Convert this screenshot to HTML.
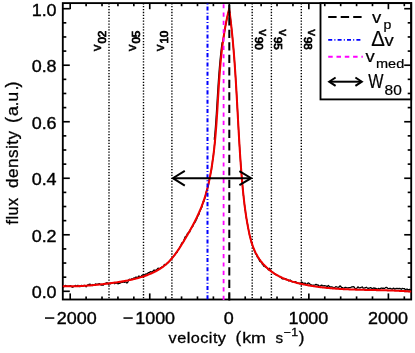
<!DOCTYPE html>
<html>
<head>
<meta charset="utf-8">
<title>Line profile</title>
<style>html,body{margin:0;padding:0;background:#fff;}svg{display:block;will-change:transform;}</style>
</head>
<body>
<svg width="415" height="353" viewBox="0 0 415 353">
<rect x="62.80" y="3.10" width="348.40" height="296.40" fill="none" stroke="#000" stroke-width="1.85"/>
<g stroke="#000" stroke-width="1.65">
<line x1="70.20" y1="299.50" x2="70.20" y2="293.40"/>
<line x1="70.20" y1="3.10" x2="70.20" y2="9.20"/>
<line x1="86.11" y1="299.50" x2="86.11" y2="296.40"/>
<line x1="86.11" y1="3.10" x2="86.11" y2="6.20"/>
<line x1="102.02" y1="299.50" x2="102.02" y2="296.40"/>
<line x1="102.02" y1="3.10" x2="102.02" y2="6.20"/>
<line x1="117.93" y1="299.50" x2="117.93" y2="296.40"/>
<line x1="117.93" y1="3.10" x2="117.93" y2="6.20"/>
<line x1="133.84" y1="299.50" x2="133.84" y2="296.40"/>
<line x1="133.84" y1="3.10" x2="133.84" y2="6.20"/>
<line x1="149.75" y1="299.50" x2="149.75" y2="293.40"/>
<line x1="149.75" y1="3.10" x2="149.75" y2="9.20"/>
<line x1="165.66" y1="299.50" x2="165.66" y2="296.40"/>
<line x1="165.66" y1="3.10" x2="165.66" y2="6.20"/>
<line x1="181.57" y1="299.50" x2="181.57" y2="296.40"/>
<line x1="181.57" y1="3.10" x2="181.57" y2="6.20"/>
<line x1="197.48" y1="299.50" x2="197.48" y2="296.40"/>
<line x1="197.48" y1="3.10" x2="197.48" y2="6.20"/>
<line x1="213.39" y1="299.50" x2="213.39" y2="296.40"/>
<line x1="213.39" y1="3.10" x2="213.39" y2="6.20"/>
<line x1="229.30" y1="299.50" x2="229.30" y2="293.40"/>
<line x1="229.30" y1="3.10" x2="229.30" y2="9.20"/>
<line x1="245.21" y1="299.50" x2="245.21" y2="296.40"/>
<line x1="245.21" y1="3.10" x2="245.21" y2="6.20"/>
<line x1="261.12" y1="299.50" x2="261.12" y2="296.40"/>
<line x1="261.12" y1="3.10" x2="261.12" y2="6.20"/>
<line x1="277.03" y1="299.50" x2="277.03" y2="296.40"/>
<line x1="277.03" y1="3.10" x2="277.03" y2="6.20"/>
<line x1="292.94" y1="299.50" x2="292.94" y2="296.40"/>
<line x1="292.94" y1="3.10" x2="292.94" y2="6.20"/>
<line x1="308.85" y1="299.50" x2="308.85" y2="293.40"/>
<line x1="308.85" y1="3.10" x2="308.85" y2="9.20"/>
<line x1="324.76" y1="299.50" x2="324.76" y2="296.40"/>
<line x1="324.76" y1="3.10" x2="324.76" y2="6.20"/>
<line x1="340.67" y1="299.50" x2="340.67" y2="296.40"/>
<line x1="340.67" y1="3.10" x2="340.67" y2="6.20"/>
<line x1="356.58" y1="299.50" x2="356.58" y2="296.40"/>
<line x1="356.58" y1="3.10" x2="356.58" y2="6.20"/>
<line x1="372.49" y1="299.50" x2="372.49" y2="296.40"/>
<line x1="372.49" y1="3.10" x2="372.49" y2="6.20"/>
<line x1="388.40" y1="299.50" x2="388.40" y2="293.40"/>
<line x1="388.40" y1="3.10" x2="388.40" y2="9.20"/>
<line x1="404.31" y1="299.50" x2="404.31" y2="296.40"/>
<line x1="404.31" y1="3.10" x2="404.31" y2="6.20"/>
<line x1="62.80" y1="291.30" x2="69.80" y2="291.30"/>
<line x1="411.20" y1="291.30" x2="404.20" y2="291.30"/>
<line x1="62.80" y1="277.17" x2="66.30" y2="277.17"/>
<line x1="411.20" y1="277.17" x2="407.70" y2="277.17"/>
<line x1="62.80" y1="263.04" x2="66.30" y2="263.04"/>
<line x1="411.20" y1="263.04" x2="407.70" y2="263.04"/>
<line x1="62.80" y1="248.91" x2="66.30" y2="248.91"/>
<line x1="411.20" y1="248.91" x2="407.70" y2="248.91"/>
<line x1="62.80" y1="234.78" x2="69.80" y2="234.78"/>
<line x1="411.20" y1="234.78" x2="404.20" y2="234.78"/>
<line x1="62.80" y1="220.65" x2="66.30" y2="220.65"/>
<line x1="411.20" y1="220.65" x2="407.70" y2="220.65"/>
<line x1="62.80" y1="206.52" x2="66.30" y2="206.52"/>
<line x1="411.20" y1="206.52" x2="407.70" y2="206.52"/>
<line x1="62.80" y1="192.39" x2="66.30" y2="192.39"/>
<line x1="411.20" y1="192.39" x2="407.70" y2="192.39"/>
<line x1="62.80" y1="178.26" x2="69.80" y2="178.26"/>
<line x1="411.20" y1="178.26" x2="404.20" y2="178.26"/>
<line x1="62.80" y1="164.13" x2="66.30" y2="164.13"/>
<line x1="411.20" y1="164.13" x2="407.70" y2="164.13"/>
<line x1="62.80" y1="150.00" x2="66.30" y2="150.00"/>
<line x1="411.20" y1="150.00" x2="407.70" y2="150.00"/>
<line x1="62.80" y1="135.87" x2="66.30" y2="135.87"/>
<line x1="411.20" y1="135.87" x2="407.70" y2="135.87"/>
<line x1="62.80" y1="121.74" x2="69.80" y2="121.74"/>
<line x1="411.20" y1="121.74" x2="404.20" y2="121.74"/>
<line x1="62.80" y1="107.61" x2="66.30" y2="107.61"/>
<line x1="411.20" y1="107.61" x2="407.70" y2="107.61"/>
<line x1="62.80" y1="93.48" x2="66.30" y2="93.48"/>
<line x1="411.20" y1="93.48" x2="407.70" y2="93.48"/>
<line x1="62.80" y1="79.35" x2="66.30" y2="79.35"/>
<line x1="411.20" y1="79.35" x2="407.70" y2="79.35"/>
<line x1="62.80" y1="65.22" x2="69.80" y2="65.22"/>
<line x1="411.20" y1="65.22" x2="404.20" y2="65.22"/>
<line x1="62.80" y1="51.09" x2="66.30" y2="51.09"/>
<line x1="411.20" y1="51.09" x2="407.70" y2="51.09"/>
<line x1="62.80" y1="36.96" x2="66.30" y2="36.96"/>
<line x1="411.20" y1="36.96" x2="407.70" y2="36.96"/>
<line x1="62.80" y1="22.83" x2="66.30" y2="22.83"/>
<line x1="411.20" y1="22.83" x2="407.70" y2="22.83"/>
<line x1="62.80" y1="8.70" x2="69.80" y2="8.70"/>
<line x1="411.20" y1="8.70" x2="404.20" y2="8.70"/>
</g>
<line x1="109.00" y1="3.10" x2="109.00" y2="299.50" stroke="#000" stroke-width="1.4" stroke-dasharray="1.3 1.61"/>
<line x1="143.50" y1="3.10" x2="143.50" y2="299.50" stroke="#000" stroke-width="1.4" stroke-dasharray="1.3 1.61"/>
<line x1="171.90" y1="3.10" x2="171.90" y2="299.50" stroke="#000" stroke-width="1.4" stroke-dasharray="1.3 1.61"/>
<line x1="252.20" y1="3.10" x2="252.20" y2="299.50" stroke="#000" stroke-width="1.4" stroke-dasharray="1.3 1.61"/>
<line x1="271.40" y1="3.10" x2="271.40" y2="299.50" stroke="#000" stroke-width="1.4" stroke-dasharray="1.3 1.61"/>
<line x1="301.30" y1="3.10" x2="301.30" y2="299.50" stroke="#000" stroke-width="1.4" stroke-dasharray="1.3 1.61"/>
<polyline points="62.80,286.87 63.55,287.06 64.31,286.44 65.06,285.60 65.81,285.47 66.57,286.05 67.32,286.13 68.07,286.03 68.83,286.05 69.58,286.11 70.33,285.63 71.09,286.14 71.84,286.95 72.59,287.25 73.35,286.93 74.10,286.12 74.85,285.88 75.61,285.43 76.36,285.99 77.11,286.13 77.86,285.29 78.62,285.60 79.37,286.57 80.12,286.70 80.87,285.72 81.63,285.33 82.38,285.91 83.13,286.07 83.88,285.50 84.64,285.43 85.39,285.95 86.14,286.73 86.89,285.93 87.64,284.90 88.39,285.01 89.14,284.28 89.90,284.17 90.65,284.63 91.40,285.34 92.15,285.61 92.90,284.51 93.65,284.73 94.40,285.14 95.15,284.17 95.90,284.00 96.65,284.36 97.40,284.18 98.15,284.34 98.89,283.74 99.64,283.55 100.39,284.69 101.14,285.03 101.89,284.98 102.64,284.99 103.39,285.05 104.13,284.12 104.88,283.79 105.63,283.42 106.38,282.78 107.13,282.67 107.87,283.20 108.62,284.32 109.37,283.76 110.12,283.83 110.86,283.56 111.61,282.86 112.36,283.08 113.10,282.55 113.85,282.60 114.60,283.70 115.34,283.18 116.09,282.85 116.83,283.22 117.58,283.56 118.32,283.76 119.07,283.27 119.81,283.24 120.56,282.97 121.30,282.09 122.04,282.39 122.79,282.28 123.53,281.72 124.27,282.36 125.01,281.94 125.75,281.92 126.49,282.93 127.23,282.94 127.97,281.80 128.71,280.00 129.45,279.25 130.18,279.59 130.92,279.37 131.66,278.88 132.39,278.84 133.12,278.57 133.86,278.00 134.59,278.12 135.32,277.56 136.05,276.95 136.78,277.86 137.51,278.09 138.23,276.59 138.96,276.02 139.68,276.51 140.40,276.79 141.12,276.41 141.84,275.52 142.56,274.97 143.28,275.17 143.99,275.32 144.70,274.64 145.42,274.20 146.12,273.97 146.83,273.99 147.54,273.44 148.24,272.76 148.94,272.74 149.63,272.36 150.33,271.64 151.02,272.00 151.71,272.02 152.39,271.49 153.08,271.19 153.76,270.06 154.43,270.09 155.10,270.52 155.77,270.06 156.43,269.70 157.09,269.14 157.75,268.41 158.40,268.25 159.05,268.92 159.69,269.00 160.32,267.84 160.95,267.52 161.57,267.30 162.19,266.65 162.80,266.82 163.41,266.42 164.00,265.06 164.60,264.47 165.18,264.67 165.75,264.58 166.32,264.53 166.88,263.71 167.44,263.01 167.98,262.92 168.52,262.06 169.05,261.68 169.58,261.38 170.09,260.20 170.61,259.86 171.11,259.17 171.61,258.22 172.10,258.11 172.58,257.67 173.06,256.82 173.54,256.06 174.00,255.69 174.47,255.48 174.92,254.63 175.38,253.68 175.82,253.28 176.27,252.15 176.70,252.64 177.14,252.48 177.57,250.30 177.99,250.23 178.41,249.76 178.83,248.74 179.24,248.83 179.65,247.79 180.06,246.65 180.47,246.01 180.87,245.42 181.27,244.28 181.67,243.11 182.06,242.89 182.46,242.98 182.85,242.52 183.24,242.05 183.63,241.37 184.02,239.85 184.41,238.87 184.79,237.65 185.18,236.69 185.56,236.43 185.94,236.26 186.33,236.27 186.71,235.36 187.09,234.32 187.47,233.40 187.84,233.04 188.22,233.19 188.59,232.86 188.96,231.92 189.34,231.91 189.71,232.05 190.07,230.65 190.44,229.37 190.81,228.64 191.17,228.25 191.53,227.71 191.89,227.19 192.25,226.84 192.60,226.54 192.96,226.06 193.31,224.90 193.66,224.04 194.00,223.37 194.35,222.45 194.69,222.77 195.03,222.26 195.37,221.72 195.71,221.16 196.04,219.89 196.37,219.80 196.70,219.06 197.02,218.13 197.35,217.36 197.67,216.35 197.98,215.69 198.30,214.93 198.61,214.89 198.92,214.35 199.22,213.64 199.52,211.94 199.82,210.53 200.12,210.96 200.41,210.04 200.70,209.44 200.99,209.00 201.27,207.70 201.55,206.85 201.82,207.25 202.09,206.43 202.36,204.75 202.63,203.77 202.89,202.98 203.14,201.94 203.39,201.10 203.64,201.78 203.89,201.54 204.13,200.14 204.37,199.44 204.60,199.19 204.83,198.28 205.06,197.63 205.28,197.09 205.50,195.65 205.71,195.17 205.93,193.50 206.14,191.92 206.34,192.18 206.54,191.33 206.74,190.44 206.94,189.82 207.13,188.90 207.32,189.43 207.51,189.18 207.69,187.41 207.87,186.94 208.05,186.14 208.22,185.24 208.40,184.73 208.57,184.27 208.73,182.88 208.90,181.82 209.06,181.66 209.22,180.20 209.37,179.82 209.53,179.19 209.68,178.66 209.83,178.44 209.97,177.35 210.12,176.45 210.26,175.79 210.40,174.32 210.54,173.27 210.67,172.99 210.81,172.33 210.94,171.80 211.07,171.19 211.19,170.15 211.32,169.86 211.44,170.30 211.56,168.79 211.68,167.17 211.80,166.62 211.92,166.35 212.04,166.21 212.15,164.54 212.26,162.85 212.37,162.16 212.48,161.23 212.59,160.27 212.69,160.07 212.80,159.51 212.90,159.19 213.00,159.22 213.10,157.52 213.20,156.05 213.30,155.46 213.39,155.62 213.49,154.79 213.58,152.95 213.67,152.51 213.76,152.46 213.85,151.48 213.94,151.20 214.03,150.79 214.11,149.60 214.20,148.44 214.28,147.51 214.36,147.02 214.44,145.44 214.52,144.85 214.60,144.28 214.68,143.42 214.76,142.79 214.83,142.81 214.91,142.73 214.98,141.55 215.05,141.02 214.37,139.45 214.44,137.50 214.51,137.12 214.58,137.35 214.65,136.60 214.71,135.85 214.78,135.10 214.84,134.35 214.91,133.60 214.97,132.85 215.03,132.10 215.10,131.35 215.16,130.60 215.22,129.84 215.28,129.09 215.33,128.34 215.39,127.59 215.45,126.84 215.51,126.09 215.56,125.34 215.62,124.59 215.67,123.84 215.73,123.08 215.78,122.33 215.83,121.58 215.88,120.83 215.94,120.08 215.99,119.33 216.04,118.57 216.09,117.82 216.14,117.07 216.19,116.32 216.24,115.57 216.29,114.82 216.34,114.06 216.39,113.31 216.43,112.56 216.48,111.81 216.53,111.06 216.58,110.30 216.62,109.55 216.67,108.80 216.72,108.05 216.76,107.30 216.81,106.55 216.85,105.79 216.90,105.04 216.94,104.29 216.99,103.54 217.04,102.79 217.08,102.03 217.13,101.28 217.17,100.53 217.22,99.78 217.26,99.03 217.31,98.27 217.35,97.52 217.40,96.77 217.44,96.02 217.49,95.27 217.54,94.51 217.58,93.76 217.63,93.01 217.67,92.26 217.72,91.51 217.77,90.75 217.81,90.00 217.86,89.25 217.91,88.50 217.96,87.75 218.01,86.99 218.05,86.24 218.10,85.49 218.15,84.74 218.20,83.99 218.25,83.24 218.30,82.48 218.35,81.73 218.40,80.98 218.45,80.23 218.51,79.48 218.56,78.73 218.61,77.97 218.67,77.22 218.72,76.47 218.78,75.72 218.83,74.97 218.89,74.22 218.94,73.47 219.00,72.72 219.06,71.96 219.12,71.21 219.18,70.46 219.24,69.71 219.30,68.96 219.36,68.21 219.42,67.46 219.49,66.71 219.55,65.96 219.62,65.21 219.68,64.46 219.75,63.71 219.82,62.96 219.89,62.21 219.96,61.46 220.03,60.71 220.10,59.96 220.17,59.21 220.24,58.46 220.32,57.71 220.39,56.96 220.47,56.21 220.55,55.46 220.63,54.71 220.71,53.96 220.79,53.21 220.87,52.46 220.96,51.71 221.04,50.96 221.13,50.22 221.21,49.47 221.30,48.72 221.39,47.97 221.48,47.22 221.58,46.48 221.67,45.73 221.76,44.98 221.86,44.23 221.96,43.49 222.06,42.74 222.91,41.99 223.01,41.25 223.11,40.50 223.22,39.76 223.33,39.01 223.43,38.26 223.54,37.52 223.65,36.77 223.77,36.03 223.88,35.28 224.00,34.54 224.12,33.80 224.23,33.05 224.36,32.31 224.48,31.56 224.60,30.82 224.73,30.08 224.86,29.34 224.98,28.59 225.12,27.85 225.25,27.11 225.38,26.37 225.52,25.63 225.66,24.89 225.80,24.15 225.94,23.41 226.08,22.67 226.23,21.93 226.38,21.19 226.53,20.45 226.68,19.71 226.83,18.98 226.99,18.24 227.15,17.50 227.31,16.77 227.47,16.03 227.63,15.30 227.80,14.56 227.97,13.83 228.14,13.09 228.31,12.36 228.48,11.63 228.66,10.89 228.84,10.16 229.02,9.43 229.20,8.70 229.31,9.52 229.42,10.34 229.52,11.17 229.63,11.99 229.74,12.81 229.84,13.63 229.94,14.46 230.05,15.28 230.15,16.10 230.25,16.93 230.35,17.75 230.45,18.57 230.54,19.40 230.64,20.22 230.74,21.04 230.83,21.87 230.93,22.69 231.02,23.52 231.11,24.34 231.20,25.16 231.29,25.99 231.38,26.81 231.47,27.64 231.56,28.46 231.65,29.29 231.73,30.11 231.82,30.94 231.90,31.76 231.99,32.59 232.07,33.41 232.15,34.24 232.24,35.06 232.32,35.89 232.40,36.71 232.48,37.54 232.56,38.36 232.63,39.19 232.71,40.02 232.79,40.84 232.86,41.67 232.94,42.49 233.01,43.32 233.09,44.14 233.16,44.97 233.23,45.80 233.30,46.62 233.38,47.45 233.45,48.28 233.52,49.10 233.59,49.93 233.65,50.75 233.72,51.58 233.79,52.41 233.86,53.23 233.92,54.06 233.99,54.89 234.05,55.71 234.12,56.54 234.18,57.37 234.25,58.20 234.31,59.02 234.37,59.85 234.43,60.68 234.49,61.50 234.56,62.33 234.62,63.16 234.68,63.98 234.74,64.81 234.79,65.64 234.85,66.47 234.91,67.29 234.97,68.12 235.03,68.95 235.08,69.78 235.14,70.60 235.19,71.43 235.25,72.26 235.31,73.08 235.36,73.91 235.41,74.74 235.47,75.57 235.52,76.39 235.58,77.22 235.63,78.05 235.68,78.88 235.73,79.71 235.78,80.53 235.84,81.36 235.89,82.19 235.94,83.02 235.99,83.84 236.04,84.67 236.09,85.50 236.14,86.33 236.19,87.16 236.24,87.98 236.29,88.81 236.34,89.64 236.38,90.47 236.43,91.29 236.48,92.12 236.53,92.95 236.58,93.78 236.62,94.61 236.67,95.43 236.72,96.26 236.77,97.09 236.81,97.92 236.86,98.75 236.91,99.57 236.95,100.40 237.00,101.23 237.04,102.06 237.09,102.89 237.14,103.71 237.18,104.54 237.23,105.37 237.27,106.20 237.32,107.03 237.36,107.85 237.41,108.68 237.46,109.51 237.50,110.34 237.55,111.17 237.59,111.99 237.64,112.82 237.68,113.65 237.73,114.48 237.77,115.31 237.82,116.13 237.86,116.96 237.91,117.79 237.95,118.62 238.00,119.45 238.04,120.28 238.09,121.10 238.14,121.93 238.18,122.76 238.23,123.59 238.27,124.42 238.32,125.24 238.37,126.07 238.41,126.90 238.46,127.73 238.50,128.56 238.55,129.38 238.60,130.21 238.65,131.04 238.69,131.87 238.74,132.70 238.79,133.52 238.83,134.35 238.88,135.18 238.93,136.01 238.98,136.83 239.03,137.66 239.08,138.49 239.13,139.32 239.17,140.15 239.22,140.97 239.27,141.80 239.32,142.63 239.37,143.46 239.42,144.29 239.48,145.11 239.53,145.94 239.58,146.77 239.63,147.60 239.68,148.42 239.73,149.25 239.79,150.08 239.84,150.91 239.89,151.73 239.95,152.56 240.00,153.39 240.06,154.22 240.11,155.04 240.17,155.87 240.22,156.70 240.28,157.53 240.34,158.35 240.39,159.18 240.45,160.01 240.51,160.84 240.57,161.66 240.63,162.49 240.69,163.32 240.75,164.14 240.81,164.97 240.87,165.80 240.93,166.63 240.99,167.45 241.05,168.28 241.12,169.11 241.18,169.93 241.24,170.76 241.31,171.59 241.37,172.41 241.44,173.24 241.50,174.07 241.57,174.89 241.64,175.72 241.71,176.55 241.78,177.37 241.84,178.20 241.91,179.03 241.98,179.85 242.06,180.68 242.13,181.50 242.20,182.33 242.27,183.16 242.35,183.98 242.42,184.81 242.50,185.63 242.57,186.46 242.65,187.29 242.73,188.11 242.81,188.94 242.89,189.76 242.97,190.59 243.05,191.41 243.13,192.24 243.21,193.06 243.30,193.89 243.38,195.43 243.47,195.57 243.56,195.61 243.65,196.92 243.74,198.06 243.83,198.28 243.92,199.67 244.02,200.30 244.11,200.55 244.21,201.33 244.31,202.48 244.41,203.96 244.51,204.97 244.61,205.73 244.72,206.27 244.82,206.99 244.93,207.69 245.04,209.20 245.15,210.36 245.26,209.70 245.38,210.04 245.49,212.20 245.61,212.91 245.73,212.97 245.85,214.45 245.98,215.02 246.10,216.09 246.23,217.95 246.36,218.06 246.49,218.67 246.62,219.47 246.76,219.49 246.89,220.73 247.03,222.01 247.18,222.51 247.32,223.56 247.47,224.05 247.61,224.23 247.76,225.19 247.92,226.61 248.07,228.13 248.23,228.91 248.39,228.94 248.55,229.55 248.72,231.02 248.88,231.17 249.06,231.51 249.23,233.17 249.41,234.55 249.59,235.21 249.78,235.96 249.98,236.79 250.17,237.45 250.38,238.09 250.59,238.51 250.80,239.27 251.02,240.24 251.25,242.00 251.49,243.05 251.73,242.98 251.98,243.60 252.24,244.36 252.50,245.15 252.78,246.21 253.06,247.12 253.35,248.05 253.66,248.65 253.97,249.34 254.29,250.80 254.62,251.12 254.96,251.73 255.32,253.11 255.68,253.76 256.06,254.29 256.45,254.50 256.85,255.87 257.26,256.95 257.68,256.78 258.12,258.09 258.57,258.57 259.02,259.37 259.49,260.91 259.98,261.45 260.47,261.89 260.97,261.87 261.49,261.87 262.01,263.52 262.54,264.68 263.09,264.56 263.64,265.93 264.21,266.47 264.78,266.34 265.36,266.98 265.95,267.44 266.55,267.50 267.16,267.70 267.78,268.97 268.40,269.92 269.04,268.81 269.68,268.30 270.33,270.05 270.99,271.24 271.65,271.47 272.32,272.39 273.00,272.33 273.69,272.86 274.38,274.03 275.08,274.23 275.79,274.71 276.50,275.24 277.22,275.47 277.95,275.35 278.68,276.13 279.41,276.78 280.15,276.40 280.90,277.20 281.65,278.48 282.40,278.86 283.16,278.78 283.92,278.69 284.68,278.84 285.45,278.66 286.22,279.13 287.00,279.85 287.78,279.87 288.56,280.77 289.34,280.68 290.13,279.95 290.91,280.56 291.70,281.60 292.50,281.99 293.29,281.61 294.09,281.59 294.89,281.63 295.69,281.66 296.49,282.50 297.29,283.36 298.09,283.48 298.90,283.09 299.71,283.73 300.51,283.65 301.32,281.97 302.13,282.26 302.94,283.12 303.76,283.57 304.57,283.22 305.38,283.25 306.20,284.38 307.01,283.96 307.83,283.17 308.64,282.98 309.46,283.48 310.28,284.57 311.10,284.90 311.91,285.01 312.73,285.38 313.55,285.24 314.37,285.18 315.19,284.89 316.01,284.35 316.83,284.90 317.65,284.99 318.48,285.20 319.30,286.11 320.12,286.13 320.94,285.42 321.77,285.05 322.59,285.91 323.42,285.95 324.24,285.53 325.06,285.79 325.89,285.84 326.71,286.42 327.54,286.29 328.36,285.45 329.19,286.31 330.02,287.05 330.84,286.90 331.67,286.92 332.49,287.03 333.32,287.59 334.15,287.86 334.97,287.32 335.80,286.71 336.63,286.98 337.46,287.22 338.28,287.30 339.11,286.98 339.94,285.92 340.77,286.38 341.59,287.58 342.42,287.68 343.25,288.04 344.08,288.15 344.91,287.41 345.74,287.49 346.56,287.64 347.39,287.77 348.22,287.92 349.05,287.65 349.88,287.68 350.71,287.56 351.54,286.94 352.36,286.97 353.19,286.71 354.02,286.90 354.85,288.15 355.68,288.76 356.51,288.55 357.34,287.54 358.17,286.83 359.00,287.85 359.82,287.93 360.65,287.56 361.48,287.25 362.31,286.92 363.14,288.06 363.97,288.22 364.80,287.97 365.63,287.55 366.46,287.25 367.29,287.95 368.12,288.47 368.94,288.05 369.77,287.98 370.60,287.71 371.43,288.04 372.26,288.87 373.09,288.22 373.92,287.80 374.75,288.50 375.58,288.24 376.41,288.63 377.24,289.45 378.06,288.60 378.89,288.42 379.72,289.17 380.55,288.36 381.38,287.98 382.21,288.42 383.04,288.12 383.87,288.47 384.70,288.39 385.53,287.62 386.36,287.29 387.18,287.83 388.01,288.63 388.84,288.65 389.67,288.39 390.50,288.41 391.33,288.98 392.16,289.22 392.99,288.49 393.81,288.21 394.64,288.98 395.47,288.91 396.30,288.34 397.13,288.59 397.96,288.38 398.79,288.77 399.61,288.39 400.44,288.64 401.27,289.34 402.10,288.38 402.93,288.70 403.75,288.58 404.58,288.74 405.41,289.73 406.24,289.38 407.06,289.01 407.89,289.65 408.72,289.63 409.55,289.37 410.37,289.84 411.20,290.51" fill="none" stroke="#000" stroke-width="1.3" stroke-linejoin="round"/>
<polyline points="62.80,286.20 63.55,286.22 64.31,286.24 65.06,286.26 65.81,286.27 66.57,286.28 67.32,286.29 68.07,286.30 68.83,286.30 69.58,286.30 70.33,286.30 71.09,286.30 71.84,286.29 72.59,286.28 73.35,286.27 74.10,286.26 74.85,286.24 75.61,286.22 76.36,286.20 77.11,286.17 77.86,286.15 78.62,286.12 79.37,286.09 80.12,286.05 80.87,286.02 81.63,285.98 82.38,285.94 83.13,285.90 83.88,285.85 84.64,285.81 85.39,285.76 86.14,285.71 86.89,285.65 87.64,285.60 88.39,285.54 89.14,285.49 89.90,285.42 90.65,285.36 91.40,285.30 92.15,285.23 92.90,285.17 93.65,285.10 94.40,285.03 95.15,284.96 95.90,284.88 96.65,284.81 97.40,284.73 98.15,284.65 98.89,284.57 99.64,284.49 100.39,284.41 101.14,284.33 101.89,284.24 102.64,284.15 103.39,284.07 104.13,283.98 104.88,283.89 105.63,283.80 106.38,283.71 107.13,283.62 107.87,283.52 108.62,283.43 109.37,283.33 110.12,283.24 110.86,283.14 111.61,283.04 112.36,282.94 113.10,282.84 113.85,282.74 114.60,282.64 115.34,282.53 116.09,282.42 116.83,282.32 117.58,282.20 118.32,282.09 119.07,281.98 119.81,281.86 120.56,281.74 121.30,281.62 122.04,281.50 122.79,281.37 123.53,281.24 124.27,281.11 125.01,280.98 125.75,280.84 126.49,280.70 127.23,280.56 127.97,280.41 128.71,280.27 129.45,280.11 130.18,279.96 130.92,279.80 131.66,279.63 132.39,279.47 133.12,279.30 133.86,279.12 134.59,278.94 135.32,278.76 136.05,278.57 136.78,278.38 137.51,278.19 138.23,277.99 138.96,277.78 139.68,277.57 140.40,277.36 141.12,277.14 141.84,276.92 142.56,276.69 143.28,276.45 143.99,276.22 144.70,275.97 145.42,275.72 146.12,275.47 146.83,275.20 147.54,274.94 148.24,274.66 148.94,274.38 149.63,274.10 150.33,273.81 151.02,273.51 151.71,273.20 152.39,272.89 153.08,272.57 153.76,272.25 154.43,271.91 155.10,271.57 155.77,271.22 156.43,270.87 157.09,270.50 157.75,270.13 158.40,269.75 159.05,269.36 159.69,268.96 160.32,268.56 160.95,268.15 161.57,267.72 162.19,267.29 162.80,266.85 163.41,266.40 164.00,265.94 164.60,265.48 165.18,265.00 165.75,264.51 166.32,264.02 166.88,263.51 167.44,263.00 167.98,262.48 168.52,261.96 169.05,261.42 169.58,260.88 170.09,260.34 170.61,259.78 171.11,259.22 171.61,258.66 172.10,258.09 172.58,257.51 173.06,256.93 173.54,256.34 174.00,255.75 174.47,255.16 174.92,254.56 175.38,253.96 175.82,253.35 176.27,252.74 176.70,252.13 177.14,251.51 177.57,250.89 177.99,250.27 178.41,249.64 178.83,249.02 179.24,248.39 179.65,247.76 180.06,247.12 180.47,246.49 180.87,245.85 181.27,245.21 181.67,244.57 182.06,243.93 182.46,243.29 182.85,242.65 183.24,242.00 183.63,241.36 184.02,240.71 184.41,240.07 184.79,239.42 185.18,238.77 185.56,238.12 185.94,237.47 186.33,236.82 186.71,236.17 187.09,235.52 187.47,234.87 187.84,234.22 188.22,233.57 188.59,232.91 188.96,232.26 189.34,231.60 189.71,230.95 190.07,230.29 190.44,229.63 190.81,228.97 191.17,228.31 191.53,227.65 191.89,226.99 192.25,226.33 192.60,225.66 192.96,225.00 193.31,224.33 193.66,223.66 194.00,222.99 194.35,222.33 194.69,221.65 195.03,220.98 195.37,220.31 195.71,219.63 196.04,218.96 196.37,218.28 196.70,217.60 197.02,216.92 197.35,216.24 197.67,215.56 197.98,214.88 198.30,214.19 198.61,213.51 198.92,212.82 199.22,212.13 199.52,211.44 199.82,210.75 200.12,210.06 200.41,209.36 200.70,208.67 200.99,207.97 201.27,207.27 201.55,206.57 201.82,205.87 202.09,205.17 202.36,204.46 202.63,203.76 202.89,203.05 203.14,202.34 203.39,201.63 203.64,200.92 203.89,200.21 204.13,199.49 204.37,198.78 204.60,198.06 204.83,197.35 205.06,196.63 205.28,195.91 205.50,195.19 205.71,194.47 205.93,193.74 206.14,193.02 206.34,192.29 206.54,191.57 206.74,190.84 206.94,190.11 207.13,189.39 207.32,188.66 207.51,187.93 207.69,187.20 207.87,186.47 208.05,185.73 208.22,185.00 208.40,184.27 208.57,183.53 208.73,182.80 208.90,182.06 209.06,181.33 209.22,180.59 209.37,179.85 209.53,179.12 209.68,178.38 209.83,177.64 209.97,176.90 210.12,176.16 210.26,175.42 210.40,174.68 210.54,173.94 210.67,173.20 210.81,172.46 210.94,171.72 211.07,170.97 211.19,170.23 211.32,169.49 211.44,168.75 211.56,168.00 211.68,167.26 211.80,166.51 211.92,165.77 212.04,165.03 212.15,164.28 212.26,163.54 212.37,162.79 212.48,162.05 212.59,161.30 212.69,160.55 212.80,159.81 212.90,159.06 213.00,158.31 213.10,157.57 213.20,156.82 213.30,156.07 213.39,155.33 213.49,154.58 213.58,153.83 213.67,153.08 213.76,152.34 213.85,151.59 213.94,150.84 214.03,150.09 214.11,149.34 214.20,148.59 214.28,147.85 214.36,147.10 214.44,146.35 214.52,145.60 214.60,144.85 214.68,144.10 214.76,143.35 214.83,142.60 214.91,141.85 214.98,141.10 215.05,140.35 215.12,139.60 215.19,138.85 215.26,138.10 215.33,137.35 215.40,136.60 215.46,135.85 215.53,135.10 215.59,134.35 215.66,133.60 215.72,132.85 215.78,132.10 215.85,131.35 215.91,130.60 215.97,129.84 216.03,129.09 216.08,128.34 216.14,127.59 216.20,126.84 216.26,126.09 216.31,125.34 216.37,124.59 216.42,123.84 216.48,123.08 216.53,122.33 216.58,121.58 216.63,120.83 216.69,120.08 216.74,119.33 216.79,118.57 216.84,117.82 216.89,117.07 216.94,116.32 216.99,115.57 217.04,114.82 217.09,114.06 217.14,113.31 217.18,112.56 217.23,111.81 217.28,111.06 217.33,110.30 217.37,109.55 217.42,108.80 217.47,108.05 217.51,107.30 217.56,106.55 217.60,105.79 217.65,105.04 217.69,104.29 217.74,103.54 217.79,102.79 217.83,102.03 217.88,101.28 217.92,100.53 217.97,99.78 218.01,99.03 218.06,98.27 218.10,97.52 218.15,96.77 218.19,96.02 218.24,95.27 218.29,94.51 218.33,93.76 218.38,93.01 218.42,92.26 218.47,91.51 218.52,90.75 218.56,90.00 218.61,89.25 218.66,88.50 218.71,87.75 218.76,86.99 218.80,86.24 218.85,85.49 218.90,84.74 218.95,83.99 219.00,83.24 219.05,82.48 219.10,81.73 219.15,80.98 219.20,80.23 219.26,79.48 219.31,78.73 219.36,77.97 219.42,77.22 219.47,76.47 219.53,75.72 219.58,74.97 219.64,74.22 219.69,73.47 219.75,72.72 219.81,71.96 219.87,71.21 219.93,70.46 219.99,69.71 220.05,68.96 220.11,68.21 220.17,67.46 220.24,66.71 220.30,65.96 220.37,65.21 220.43,64.46 220.50,63.71 220.57,62.96 220.64,62.21 220.71,61.46 220.78,60.71 220.85,59.96 220.92,59.21 220.99,58.46 221.07,57.71 221.14,56.96 221.22,56.21 221.30,55.46 221.38,54.71 221.46,53.96 221.54,53.21 221.62,52.46 221.71,51.71 221.79,50.96 221.88,50.22 221.96,49.47 222.05,48.72 222.14,47.97 222.23,47.22 222.33,46.48 222.42,45.73 222.51,44.98 222.61,44.23 222.71,43.49 222.81,42.74 222.91,41.99 223.01,41.25 223.11,40.50 223.22,39.76 223.33,39.01 223.43,38.26 223.54,37.52 223.65,36.77 223.77,36.03 223.88,35.28 224.00,34.54 224.12,33.80 224.23,33.05 224.36,32.31 224.48,31.56 224.60,30.82 224.73,30.08 224.86,29.34 224.98,28.59 225.12,27.85 225.25,27.11 225.38,26.37 225.52,25.63 225.66,24.89 225.80,24.15 225.94,23.41 226.08,22.67 226.23,21.93 226.38,21.19 226.53,20.45 226.68,19.71 226.83,18.98 226.99,18.24 227.15,17.50 227.31,16.77 227.47,16.03 227.63,15.30 227.80,14.56 227.97,13.83 228.14,13.09 228.31,12.36 228.48,11.63 228.66,10.89 228.84,10.16 229.02,9.43 229.20,8.70 229.31,9.52 229.42,10.34 229.52,11.17 229.63,11.99 229.74,12.81 229.84,13.63 229.94,14.46 230.05,15.28 230.15,16.10 230.25,16.93 230.35,17.75 230.45,18.57 230.54,19.40 230.64,20.22 230.74,21.04 230.83,21.87 230.93,22.69 231.02,23.52 231.11,24.34 231.20,25.16 231.29,25.99 231.38,26.81 231.47,27.64 231.56,28.46 231.65,29.29 231.73,30.11 231.82,30.94 231.90,31.76 231.99,32.59 232.07,33.41 232.15,34.24 232.24,35.06 232.32,35.89 232.40,36.71 232.48,37.54 232.56,38.36 232.63,39.19 232.71,40.02 232.79,40.84 232.86,41.67 232.94,42.49 233.01,43.32 233.09,44.14 233.16,44.97 233.23,45.80 233.30,46.62 233.38,47.45 233.45,48.28 233.52,49.10 233.59,49.93 233.65,50.75 233.72,51.58 233.79,52.41 233.86,53.23 233.92,54.06 233.99,54.89 234.05,55.71 234.12,56.54 234.18,57.37 234.25,58.20 234.31,59.02 234.37,59.85 234.43,60.68 234.49,61.50 234.56,62.33 234.62,63.16 234.68,63.98 234.74,64.81 234.79,65.64 234.85,66.47 234.91,67.29 234.97,68.12 235.03,68.95 235.08,69.78 235.14,70.60 235.19,71.43 235.25,72.26 235.31,73.08 235.36,73.91 235.41,74.74 235.47,75.57 235.52,76.39 235.58,77.22 235.63,78.05 235.68,78.88 235.73,79.71 235.78,80.53 235.84,81.36 235.89,82.19 235.94,83.02 235.99,83.84 236.04,84.67 236.09,85.50 236.14,86.33 236.19,87.16 236.24,87.98 236.29,88.81 236.34,89.64 236.38,90.47 236.43,91.29 236.48,92.12 236.53,92.95 236.58,93.78 236.62,94.61 236.67,95.43 236.72,96.26 236.77,97.09 236.81,97.92 236.86,98.75 236.91,99.57 236.95,100.40 237.00,101.23 237.04,102.06 237.09,102.89 237.14,103.71 237.18,104.54 237.23,105.37 237.27,106.20 237.32,107.03 237.36,107.85 237.41,108.68 237.46,109.51 237.50,110.34 237.55,111.17 237.59,111.99 237.64,112.82 237.68,113.65 237.73,114.48 237.77,115.31 237.82,116.13 237.86,116.96 237.91,117.79 237.95,118.62 238.00,119.45 238.04,120.28 238.09,121.10 238.14,121.93 238.18,122.76 238.23,123.59 238.27,124.42 238.32,125.24 238.37,126.07 238.41,126.90 238.46,127.73 238.50,128.56 238.55,129.38 238.60,130.21 238.65,131.04 238.69,131.87 238.74,132.70 238.79,133.52 238.83,134.35 238.88,135.18 238.93,136.01 238.98,136.83 239.03,137.66 239.08,138.49 239.13,139.32 239.17,140.15 239.22,140.97 239.27,141.80 239.32,142.63 239.37,143.46 239.42,144.29 239.48,145.11 239.53,145.94 239.58,146.77 239.63,147.60 239.68,148.42 239.73,149.25 239.79,150.08 239.84,150.91 239.89,151.73 239.95,152.56 240.00,153.39 240.06,154.22 240.11,155.04 240.17,155.87 240.22,156.70 240.28,157.53 240.34,158.35 240.39,159.18 240.45,160.01 240.51,160.84 240.57,161.66 240.63,162.49 240.69,163.32 240.75,164.14 240.81,164.97 240.87,165.80 240.93,166.63 240.99,167.45 241.05,168.28 241.12,169.11 241.18,169.93 241.24,170.76 241.31,171.59 241.37,172.41 241.44,173.24 241.50,174.07 241.57,174.89 241.64,175.72 241.71,176.55 241.78,177.37 241.84,178.20 241.91,179.03 241.98,179.85 242.06,180.68 242.13,181.50 242.20,182.33 242.27,183.16 242.35,183.98 242.42,184.81 242.50,185.63 242.57,186.46 242.65,187.29 242.73,188.11 242.81,188.94 242.89,189.76 242.97,190.59 243.05,191.41 243.13,192.24 243.21,193.06 243.30,193.89 243.38,194.71 243.47,195.54 243.56,196.36 243.65,197.19 243.74,198.01 243.83,198.84 243.92,199.66 244.02,200.48 244.11,201.31 244.21,202.13 244.31,202.96 244.41,203.78 244.51,204.60 244.61,205.42 244.72,206.25 244.82,207.07 244.93,207.89 245.04,208.71 245.15,209.54 245.26,210.36 245.38,211.18 245.49,212.00 245.61,212.82 245.73,213.64 245.85,214.46 245.98,215.28 246.10,216.10 246.23,216.92 246.36,217.74 246.49,218.56 246.62,219.38 246.76,220.20 246.89,221.01 247.03,221.83 247.18,222.65 247.32,223.47 247.47,224.28 247.61,225.10 247.76,225.91 247.92,226.73 248.07,227.54 248.23,228.36 248.39,229.17 248.55,229.98 248.72,230.80 248.88,231.61 249.06,232.42 249.23,233.23 249.41,234.04 249.59,234.85 249.78,235.66 249.98,236.46 250.17,237.27 250.38,238.07 250.59,238.88 250.80,239.68 251.02,240.48 251.25,241.27 251.49,242.07 251.73,242.86 251.98,243.65 252.24,244.44 252.50,245.23 252.78,246.01 253.06,246.79 253.35,247.56 253.66,248.34 253.97,249.10 254.29,249.87 254.62,250.63 254.96,251.38 255.32,252.13 255.68,252.88 256.06,253.62 256.45,254.35 256.85,255.08 257.26,255.80 257.68,256.51 258.12,257.21 258.57,257.91 259.02,258.60 259.49,259.29 259.98,259.96 260.47,260.63 260.97,261.29 261.49,261.94 262.01,262.58 262.54,263.22 263.09,263.84 263.64,264.46 264.21,265.07 264.78,265.67 265.36,266.26 265.95,266.84 266.55,267.41 267.16,267.97 267.78,268.53 268.40,269.07 269.04,269.61 269.68,270.13 270.33,270.65 270.99,271.15 271.65,271.65 272.32,272.13 273.00,272.61 273.69,273.07 274.38,273.53 275.08,273.97 275.79,274.41 276.50,274.83 277.22,275.25 277.95,275.65 278.68,276.04 279.41,276.43 280.15,276.80 280.90,277.17 281.65,277.52 282.40,277.87 283.16,278.20 283.92,278.53 284.68,278.85 285.45,279.17 286.22,279.47 287.00,279.76 287.78,280.05 288.56,280.33 289.34,280.60 290.13,280.87 290.91,281.13 291.70,281.38 292.50,281.62 293.29,281.86 294.09,282.09 294.89,282.32 295.69,282.54 296.49,282.75 297.29,282.96 298.09,283.16 298.90,283.36 299.71,283.55 300.51,283.74 301.32,283.92 302.13,284.10 302.94,284.27 303.76,284.44 304.57,284.60 305.38,284.77 306.20,284.92 307.01,285.08 307.83,285.23 308.64,285.37 309.46,285.52 310.28,285.66 311.10,285.79 311.91,285.93 312.73,286.06 313.55,286.19 314.37,286.31 315.19,286.44 316.01,286.56 316.83,286.67 317.65,286.79 318.48,286.90 319.30,287.00 320.12,287.11 320.94,287.21 321.77,287.31 322.59,287.41 323.42,287.50 324.24,287.60 325.06,287.69 325.89,287.77 326.71,287.86 327.54,287.94 328.36,288.02 329.19,288.10 330.02,288.17 330.84,288.25 331.67,288.32 332.49,288.39 333.32,288.45 334.15,288.52 334.97,288.58 335.80,288.64 336.63,288.70 337.46,288.76 338.28,288.81 339.11,288.86 339.94,288.92 340.77,288.97 341.59,289.01 342.42,289.06 343.25,289.11 344.08,289.15 344.91,289.19 345.74,289.23 346.56,289.27 347.39,289.31 348.22,289.34 349.05,289.38 349.88,289.41 350.71,289.44 351.54,289.48 352.36,289.51 353.19,289.54 354.02,289.56 354.85,289.59 355.68,289.62 356.51,289.64 357.34,289.67 358.17,289.69 359.00,289.71 359.82,289.74 360.65,289.76 361.48,289.78 362.31,289.80 363.14,289.82 363.97,289.84 364.80,289.86 365.63,289.88 366.46,289.90 367.29,289.91 368.12,289.93 368.94,289.95 369.77,289.97 370.60,289.98 371.43,290.00 372.26,290.02 373.09,290.04 373.92,290.05 374.75,290.07 375.58,290.09 376.41,290.11 377.24,290.12 378.06,290.14 378.89,290.16 379.72,290.18 380.55,290.20 381.38,290.22 382.21,290.24 383.04,290.26 383.87,290.28 384.70,290.30 385.53,290.33 386.36,290.35 387.18,290.37 388.01,290.40 388.84,290.42 389.67,290.45 390.50,290.48 391.33,290.51 392.16,290.54 392.99,290.57 393.81,290.60 394.64,290.63 395.47,290.67 396.30,290.70 397.13,290.74 397.96,290.78 398.79,290.82 399.61,290.86 400.44,290.90 401.27,290.94 402.10,290.99 402.93,291.04 403.75,291.08 404.58,291.13 405.41,291.19 406.24,291.24 407.06,291.30 407.89,291.35 408.72,291.41 409.55,291.47 410.37,291.54 411.20,291.60" fill="none" stroke="#f00000" stroke-width="2.05" stroke-linejoin="round"/>
<line x1="207.5" y1="299.30" x2="207.5" y2="3.10" stroke="#0000ff" stroke-width="2.0" stroke-dasharray="4.04 2.12 1.0 2.154"/>
<line x1="223.6" y1="299.90" x2="223.6" y2="3.10" stroke="#ff00ff" stroke-width="1.8" stroke-dasharray="4.2 4.13"/>
<line x1="229.3" y1="300.40" x2="229.3" y2="3.10" stroke="#000" stroke-width="2.0" stroke-dasharray="8.2 4.3"/>
<line x1="229.3" y1="12.5" x2="229.3" y2="17.5" stroke="#000" stroke-width="1.6"/>
<g stroke="#000" stroke-width="2.0" fill="none" stroke-linecap="butt" stroke-linejoin="miter">
<line x1="173.70" y1="178.20" x2="250.30" y2="178.20"/>
<polyline points="184.80,170.80 172.90,178.20 184.80,185.60"/>
<polyline points="239.40,171.20 251.10,178.20 239.40,185.20"/>
</g>
<rect x="320.50" y="3.10" width="90.70" height="96.30" fill="none" stroke="#000" stroke-width="1.85"/>
<line x1="328.2" y1="17.1" x2="361.6" y2="17.1" stroke="#000" stroke-width="2.0" stroke-dasharray="8.4 4.1"/>
<line x1="328.2" y1="39.9" x2="360.8" y2="39.9" stroke="#0000ff" stroke-width="1.9" stroke-dasharray="4.0 2.2 1.0 2.2"/>
<line x1="328.2" y1="56.7" x2="362.8" y2="56.7" stroke="#ff00ff" stroke-width="1.9" stroke-dasharray="4.5 3.8"/>
<g stroke="#000" stroke-width="2.0" fill="none">
<line x1="330.30" y1="81.70" x2="360.70" y2="81.70"/>
<polyline points="335.60,77.50 329.20,81.70 335.60,85.90"/>
<polyline points="355.40,77.50 361.80,81.70 355.40,85.90"/>
</g>
<g font-family="Liberation Sans, sans-serif" fill="#000" stroke="#000" stroke-width="0.22">
<text transform="translate(371.9,22.6) scale(1.07,1)" font-size="17.3">v</text>
<text transform="translate(383.5,28.6) scale(1.10,1)" font-size="12.8">p</text>
<text transform="translate(371.2,45.7) scale(0.92,1)" font-size="22.2">&#916;</text>
<text transform="translate(384.6,45.7) scale(1.07,1)" font-size="17.3">v</text>
<text transform="translate(365.4,62.3) scale(1.07,1)" font-size="17.3">v</text>
<text x="376.0" y="68.0" font-size="13.5" textLength="28.2" lengthAdjust="spacingAndGlyphs">med</text>
<text x="368.2" y="87.5" font-size="19.8" textLength="15.2" lengthAdjust="spacingAndGlyphs">W</text>
<text x="384.6" y="94.5" font-size="14" textLength="17.2" lengthAdjust="spacingAndGlyphs">80</text>
</g>
<g font-family="Liberation Sans, sans-serif" fill="#000" font-size="15.6" stroke="#000" stroke-width="0.35">
<text transform="translate(76.70,323.7) scale(1.150,1)" text-anchor="middle">2000</text>
<rect x="45.00" y="317.3" width="9.3" height="1.5" stroke="none"/>
<text transform="translate(155.15,323.7) scale(1.150,1)" text-anchor="middle">1000</text>
<rect x="123.45" y="317.3" width="9.3" height="1.5" stroke="none"/>
<text transform="translate(228.70,323.7) scale(1.150,1)" text-anchor="middle">0</text>
<text transform="translate(308.35,323.7) scale(1.150,1)" text-anchor="middle">1000</text>
<text transform="translate(388.00,323.7) scale(1.150,1)" text-anchor="middle">2000</text>
<text transform="translate(56.6,298.10) scale(1.150,1)" text-anchor="end">0.0</text>
<text transform="translate(56.6,241.58) scale(1.150,1)" text-anchor="end">0.2</text>
<text transform="translate(56.6,185.06) scale(1.150,1)" text-anchor="end">0.4</text>
<text transform="translate(56.6,128.54) scale(1.150,1)" text-anchor="end">0.6</text>
<text transform="translate(56.6,72.02) scale(1.150,1)" text-anchor="end">0.8</text>
<text transform="translate(56.6,15.50) scale(1.150,1)" text-anchor="end">1.0</text>
</g>
<g font-family="Liberation Sans, sans-serif" fill="#000" font-size="15.2" stroke="#000" stroke-width="0.3">
<text transform="translate(168.6,343) scale(1.07,1)" textLength="53.64" lengthAdjust="spacing">velocity</text>
<text transform="translate(235.6,343.4) scale(1.12,1.14)">(</text>
<text x="242.2" y="343" textLength="23.7" lengthAdjust="spacingAndGlyphs">km</text>
<text x="275.4" y="343">s</text>
<text x="284.0" y="336.2" font-size="10.2" textLength="14.0" lengthAdjust="spacingAndGlyphs">−1</text>
<text transform="translate(298.7,343.4) scale(1.12,1.14)">)</text>
<g transform="translate(18.2,224.4) rotate(-90)" font-size="16.2">
<text transform="translate(0,0) scale(1.0,1)" textLength="26.40" lengthAdjust="spacing">flux</text>
<text transform="translate(36.4,0) scale(1.06,1)" textLength="53.96" lengthAdjust="spacing">density</text>
<text transform="translate(101.3,-0.2) scale(1.12,1.19)">(</text>
<text transform="translate(108.30,0) scale(1.1,1)">a</text>
<text transform="translate(117.85,0) scale(1.1,1)">.</text>
<text transform="translate(122.70,0) scale(1.1,1)">u</text>
<text transform="translate(133.85,0) scale(1.1,1)">.</text>
<text transform="translate(137.0,-0.2) scale(1.12,1.19)">)</text>
</g>
</g>
<g font-family="Liberation Sans, sans-serif" fill="#000" stroke="#000" stroke-width="0.5">
<g transform="translate(101.00,51.3) rotate(-90)">
<text x="0" y="0" font-size="13.6">v</text>
<text x="7.7" y="4.6" font-size="10.2" textLength="12.9" lengthAdjust="spacingAndGlyphs" stroke-width="0.75">02</text>
</g>
<g transform="translate(135.70,51.3) rotate(-90)">
<text x="0" y="0" font-size="13.6">v</text>
<text x="7.7" y="4.6" font-size="10.2" textLength="12.9" lengthAdjust="spacingAndGlyphs" stroke-width="0.75">05</text>
</g>
<g transform="translate(163.60,51.3) rotate(-90)">
<text x="0" y="0" font-size="13.6">v</text>
<text x="7.7" y="4.6" font-size="10.2" textLength="12.9" lengthAdjust="spacingAndGlyphs" stroke-width="0.75">10</text>
</g>
<g transform="translate(259.20,29.2) rotate(90)">
<text x="0" y="0" font-size="13.6">v</text>
<text x="7.7" y="4.6" font-size="10.2" textLength="12.9" lengthAdjust="spacingAndGlyphs" stroke-width="0.75">90</text>
</g>
<g transform="translate(278.60,29.2) rotate(90)">
<text x="0" y="0" font-size="13.6">v</text>
<text x="7.7" y="4.6" font-size="10.2" textLength="12.9" lengthAdjust="spacingAndGlyphs" stroke-width="0.75">95</text>
</g>
<g transform="translate(308.40,29.2) rotate(90)">
<text x="0" y="0" font-size="13.6">v</text>
<text x="7.7" y="4.6" font-size="10.2" textLength="12.9" lengthAdjust="spacingAndGlyphs" stroke-width="0.75">98</text>
</g>
</g>
</svg>
</body>
</html>
